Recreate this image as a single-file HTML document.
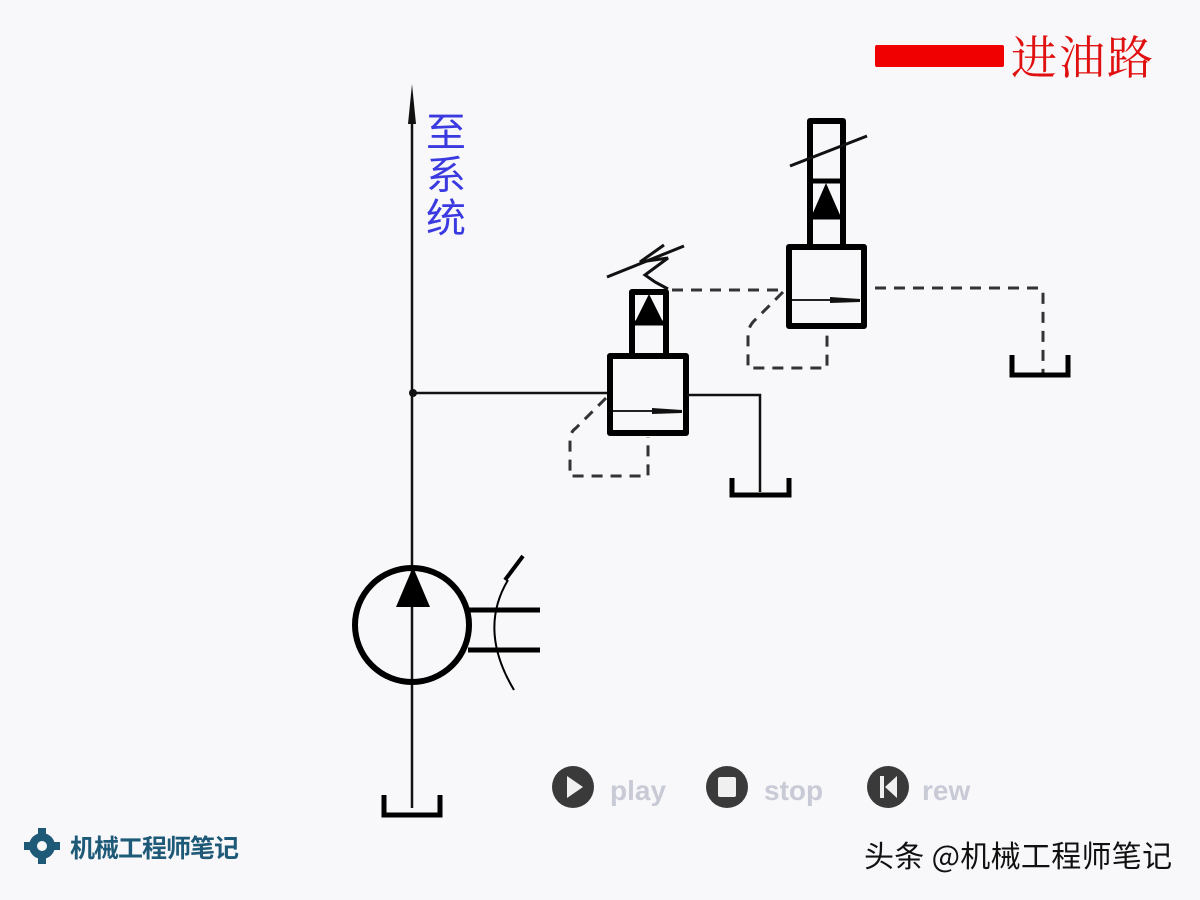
<!DOCTYPE html>
<html><head><meta charset="utf-8"><style>
html,body{margin:0;padding:0;background:#f8f8fa;}
svg{display:block}
</style></head><body>
<svg width="1200" height="900" viewBox="0 0 1200 900" xmlns="http://www.w3.org/2000/svg">
<rect width="1200" height="900" fill="#f8f8fa"/>
<!-- legend -->
<rect x="875" y="45" width="129" height="22" rx="2" fill="#f00000"/>
<text x="1011" y="62" font-family="'Noto Serif CJK SC', serif" font-size="46" fill="#e01010" dominant-baseline="middle" letter-spacing="2">进油路</text>
<!-- main line -->
<line x1="412" y1="100" x2="412" y2="808" stroke="#111" stroke-width="2.5"/>
<polygon points="412,84 408,124 416,124" fill="#111"/>
<text font-family="'Noto Sans CJK SC', sans-serif" font-size="40" fill="#3a3ae0">
<tspan x="426" y="146">至</tspan><tspan x="426" y="189">系</tspan><tspan x="426" y="232">统</tspan></text>
<circle cx="413" cy="393" r="4" fill="#111"/>
<line x1="412" y1="393" x2="608" y2="393" stroke="#111" stroke-width="2.5"/>
<!-- valves -->
<g stroke="#000" stroke-width="6" fill="none" stroke-linejoin="round">
<rect x="610" y="356" width="76" height="77"/>
<rect x="632" y="292" width="34" height="64"/>
<rect x="789" y="247" width="75" height="79"/>
<rect x="810" y="121" width="33" height="126"/>
</g>
<g stroke="#000" stroke-width="5">
<line x1="632" y1="323" x2="666" y2="323"/>
<line x1="810" y1="181" x2="843" y2="181"/>
<line x1="810" y1="217" x2="843" y2="217"/>
</g>
<polygon points="649,294 635,322 663,322" fill="#000"/>
<polygon points="826,183 812,215 840,215" fill="#000"/>
<line x1="613" y1="411" x2="682" y2="411" stroke="#222" stroke-width="2"/>
<polygon points="652,408 682,410 682,413 652,414" fill="#111"/>
<line x1="792" y1="300" x2="860" y2="300" stroke="#222" stroke-width="2"/>
<polygon points="830,297 860,299 860,302 830,303" fill="#111"/>
<!-- springs -->
<path d="M607,277 L684,246" stroke="#111" stroke-width="3" fill="none"/>
<path d="M664,245 L640,262 L668,258 L645,275 L655,282 L668,289" stroke="#111" stroke-width="3" fill="none"/>
<path d="M790,166 L867,136" stroke="#111" stroke-width="3" fill="none"/>
<!-- right line and tank 1 -->
<polyline points="687,395 760,395 760,492" stroke="#111" stroke-width="2.5" fill="none"/>
<polyline points="732,478 732,495 789,495 789,478" stroke="#000" stroke-width="5" fill="none"/>
<!-- dashed lines -->
<g stroke="#333" stroke-width="3" fill="none" stroke-dasharray="11,8">
<path d="M606,398 L576,428 Q570,432 570,440 L570,476 L648,476 L648,437"/>
<path d="M672,290 L785,290"/>
<path d="M783,292 L753,322 Q748,328 748,335 L748,368 L827,368 L827,330"/>
<path d="M875,288 L1040,288 Q1043,289 1043,294 L1043,374"/>
</g>
<polyline points="1012,355 1012,375 1068,375 1068,355" stroke="#000" stroke-width="5" fill="none"/>
<!-- pump -->
<circle cx="412" cy="625" r="57" stroke="#000" stroke-width="6" fill="none"/>
<polygon points="413,567 396,607 430,607" fill="#000"/>
<line x1="468" y1="610" x2="540" y2="610" stroke="#000" stroke-width="5"/>
<line x1="468" y1="650" x2="540" y2="650" stroke="#000" stroke-width="5"/>
<path d="M508,580 Q478,630 514,690" stroke="#000" stroke-width="2" fill="none"/>
<path d="M505,580 L523,556" stroke="#000" stroke-width="4" fill="none"/>
<!-- bottom tank -->
<polyline points="384,795 384,815 440,815 440,795" stroke="#000" stroke-width="5" fill="none"/>
<!-- buttons -->
<g fill="#3a3a3a">
<circle cx="573" cy="787" r="21"/><circle cx="727" cy="787" r="21"/><circle cx="888" cy="787" r="21"/>
</g>
<polygon points="567,776 567,798 583,787" fill="#f0f0f0"/>
<rect x="718" y="777" width="18" height="20" rx="2" fill="#f0f0f0"/>
<polygon points="880,776 884,776 884,798 880,798" fill="#f0f0f0"/>
<polygon points="897,776 897,798 885,787" fill="#f0f0f0"/>
<g font-family="Liberation Sans, sans-serif" font-size="28" font-weight="bold" fill="#c8cad6">
<text x="610" y="800">play</text><text x="764" y="800">stop</text><text x="922" y="800">rew</text></g>
<!-- logo -->
<g fill="#1e5a78">
<circle cx="42" cy="846" r="13"/>
<rect x="38" y="828" width="8" height="36"/>
<rect x="24" y="842" width="36" height="8"/>
</g>
<circle cx="42" cy="846" r="5" fill="#f8f8fa"/>
<text x="70" y="857" font-family="'Noto Sans CJK SC', sans-serif" font-size="25" font-weight="bold" fill="#1e5a78" letter-spacing="-1">机械工程师笔记</text>
<text x="864" y="867" font-family="'Noto Sans CJK SC', sans-serif" font-size="30" fill="#111" letter-spacing="0.3">头条 @机械工程师笔记</text>
</svg>
</body></html>
